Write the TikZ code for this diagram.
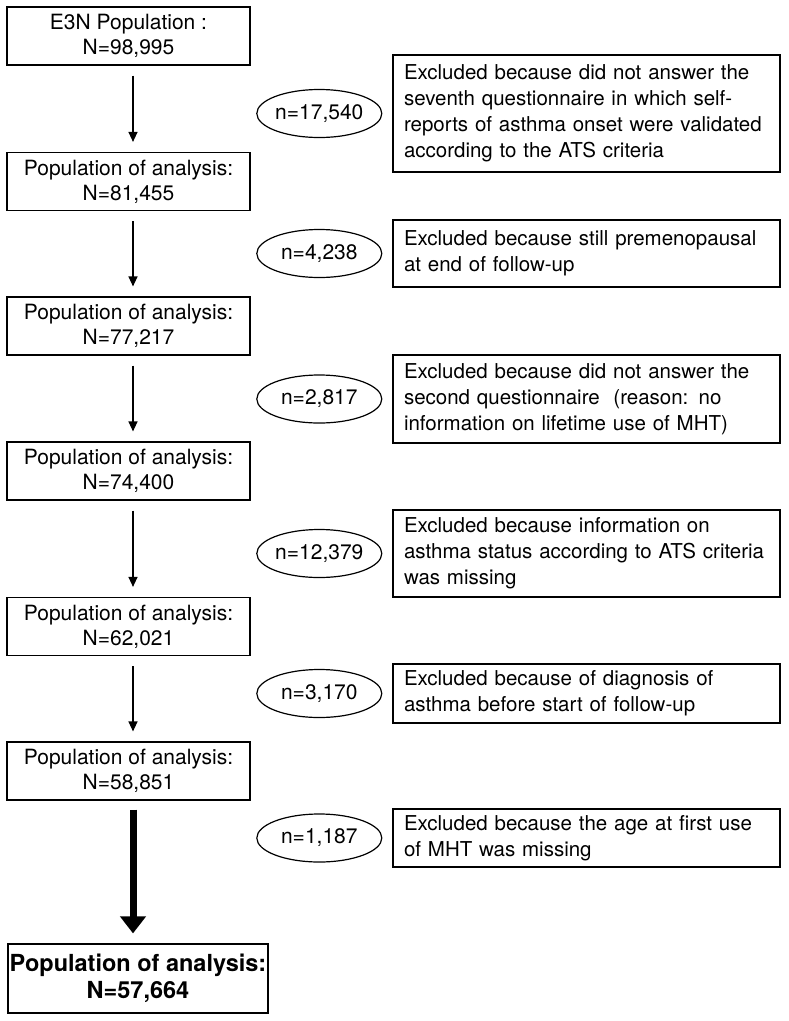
\documentclass[tikz,border=0pt]{standalone}
\usepackage{fontspec}
\setmainfont{TeX Gyre Heros}
\usetikzlibrary{arrows.meta,positioning,shapes.geometric}

\begin{document}
\begin{tikzpicture}[x=1pt, y=1pt,
    popbox/.style={draw, line width=1.2pt, minimum width=243pt, minimum height=58pt,
      align=center, inner sep=2pt, font=\fontsize{21}{25}\selectfont},
    exclbox/.style={draw, line width=1.2pt, text width=365pt, inner xsep=11pt,
      inner ysep=2pt, align=left, font=\fontsize{20.5}{26}\selectfont},
    countell/.style={draw, ellipse, line width=1.2pt, minimum width=125pt,
      minimum height=48pt, inner sep=0pt, font=\fontsize{21}{25}\selectfont},
    flow/.style={-{Triangle[width=9pt,length=10pt]}, line width=1.3pt,
      shorten <=10pt, shorten >=10pt},
    bigflow/.style={-{Triangle[width=25pt,length=17pt]}, line width=7pt,
      shorten <=9pt, shorten >=10pt}]

    \useasboundingbox (0,0) rectangle (789,-1021);

    % Main column: remaining population
    \node[popbox] (pop0) at (128.5,-36) {E3N Population :\\N=98,995};
    \node[popbox] (pop1) at (128.5,-181.5) {Population of analysis:\\N=81,455};
    \node[popbox] (pop2) at (128.5,-326) {Population of analysis:\\N=77,217};
    \node[popbox] (pop3) at (128.5,-471) {Population of analysis:\\N=74,400};
    \node[popbox] (pop4) at (128.5,-626.5) {Population of analysis:\\N=62,021};
    \node[popbox] (pop5) at (128.5,-771) {Population of analysis:\\N=58,851};
    \node[popbox, minimum width=260pt, minimum height=69pt, inner xsep=0pt,
      font=\bfseries\fontsize{23.5}{27}\selectfont] (final) at (138,-978.5)
      {Population of analysis:\\N=57,664};

    % Arrows down the column
    \draw[flow] ([xshift=4.5pt]pop0.south) -- ([xshift=4.5pt]pop1.north);
    \draw[flow] ([xshift=4.5pt]pop1.south) -- ([xshift=4.5pt]pop2.north);
    \draw[flow] ([xshift=4.5pt]pop2.south) -- ([xshift=4.5pt]pop3.north);
    \draw[flow] ([xshift=4.5pt]pop3.south) -- ([xshift=4.5pt]pop4.north);
    \draw[flow] ([xshift=4.5pt]pop4.south) -- ([xshift=4.5pt]pop5.north);
    \draw[bigflow] ([xshift=4.5pt]pop5.south) -- ([xshift=4.5pt]pop5.south |- final.north);

    % Exclusion reasons (right side)
    \node[exclbox, minimum height=117pt] (excl1) at (586.5,-113.5)
      {Excluded because did not answer the\\seventh questionnaire in which self-\\reports of asthma onset were validated\\according to the ATS criteria};
    \node[exclbox, minimum height=67pt] (excl2) at (586.5,-253.5)
      {Excluded because still premenopausal\\at end of follow-up};
    \node[exclbox, minimum height=88pt] (excl3) at (586.5,-399)
      {Excluded because did not answer the\\second questionnaire~ (reason: no\\information on lifetime use of MHT)};
    \node[exclbox, minimum height=87pt] (excl4) at (586.5,-553.5)
      {Excluded because information on\\asthma status according to ATS criteria\\was missing};
    \node[exclbox, minimum height=59pt] (excl5) at (586.5,-693.5)
      {Excluded because of diagnosis of\\asthma before start of follow-up};
    \node[exclbox, minimum height=58pt] (excl6) at (586.5,-838)
      {Excluded because the age at first use\\of MHT was missing};

    % Excluded counts
    \node[countell, left=10pt of excl1] (cnt1) {n=17,540};
    \node[countell, left=10pt of excl2] (cnt2) {n=4,238};
    \node[countell, left=10pt of excl3] (cnt3) {n=2,817};
    \node[countell, left=10pt of excl4] (cnt4) {n=12,379};
    \node[countell, left=10pt of excl5] (cnt5) {n=3,170};
    \node[countell, left=10pt of excl6] (cnt6) {n=1,187};

\end{tikzpicture}
\end{document}
